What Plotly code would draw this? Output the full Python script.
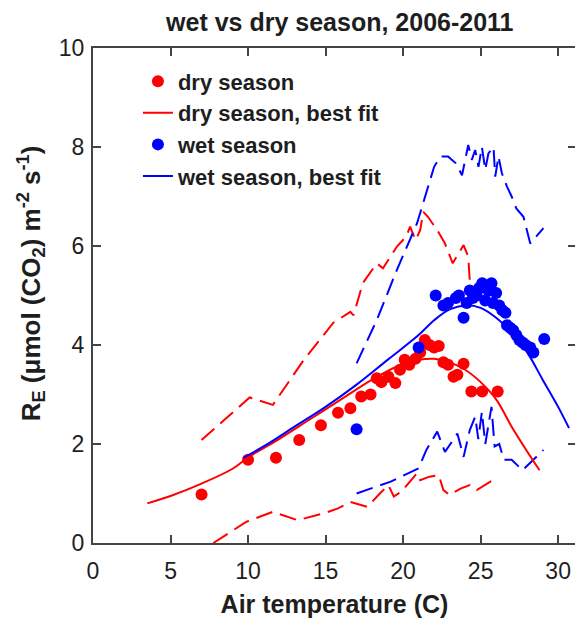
import plotly.graph_objects as go

# ---- data ----
dry_x = [7.0, 10.0, 11.8, 13.3, 14.7, 15.8, 16.6, 17.3, 17.9, 18.3, 18.6, 19.05, 19.5, 19.8,
         20.1, 20.4, 20.8, 21.1, 21.4, 21.7, 22.0, 22.3, 22.6, 22.9, 23.25, 23.5, 23.9,
         24.4, 25.1, 26.1]
dry_y = [0.98, 1.68, 1.72, 2.08, 2.38, 2.63, 2.72, 2.96, 3.0, 3.33, 3.25, 3.36, 3.23, 3.5,
         3.7, 3.6, 3.72, 3.85, 4.1, 4.0, 3.95, 3.98, 3.65, 3.6, 3.36, 3.4, 3.62,
         3.06, 3.06, 3.06]

wet_x = [17.0, 21.0, 22.1, 22.6, 22.9, 23.4, 23.6, 23.9, 24.1, 24.3, 24.5, 24.75, 24.9,
         25.1, 25.3, 25.5, 25.7, 25.8, 26.0, 26.2, 26.4, 26.6, 26.7, 26.9, 27.1, 27.3,
         27.5, 27.7, 27.9, 28.2, 28.4, 29.1]
wet_y = [2.3, 3.95, 5.0, 4.8, 4.85, 4.95, 5.0, 4.55, 4.85, 5.1, 4.95, 5.0, 5.15,
         5.25, 4.9, 5.1, 5.25, 4.85, 5.05, 4.8, 4.7, 4.65, 4.4, 4.35, 4.3, 4.2,
         4.1, 4.05, 4.0, 3.95, 3.85, 4.12]

dry_fit_x = [3.5, 5, 7, 9, 10, 12, 14, 16, 18, 20, 21, 22, 23, 24, 25, 26, 27, 28, 28.8]
dry_fit_y = [0.80, 0.95, 1.2, 1.5, 1.73, 2.1, 2.5, 2.9, 3.3, 3.62, 3.7, 3.72, 3.65, 3.5,
             3.25, 2.9, 2.35, 1.85, 1.47]

wet_fit_x = [9.7, 11, 13, 15, 17, 19, 21, 22, 23, 24, 25, 26, 27, 28, 29, 30, 30.7]
wet_fit_y = [1.72, 1.95, 2.35, 2.75, 3.2, 3.7, 4.2, 4.5, 4.72, 4.8, 4.75, 4.55, 4.25,
             3.85, 3.3, 2.75, 2.32]

dry_up_x = [7.0, 10.1, 11.6, 13.6, 15.5, 16.6, 16.8, 17.4, 18.3, 18.7, 19.6, 19.9, 20.2,
            20.45, 20.8, 21.1, 21.3, 21.6, 22.2, 22.7, 23.2, 23.9, 24.2, 24.3]
dry_up_y = [2.08, 2.94, 2.79, 3.70, 4.45, 4.67, 4.6, 5.25, 5.65, 5.55, 5.99, 6.09, 6.19,
            6.39, 6.12, 6.32, 6.69, 6.59, 6.32, 6.05, 5.65, 6.02, 5.78, 5.3]

dry_lo_x = [7.76, 9.9, 11.6, 13.2, 14.9, 15.8, 16.6, 17.7, 18.5, 19.05, 19.4, 19.9, 20.9,
            21.1, 21.7, 22.3, 22.6, 23.0, 23.7, 24.3, 24.75, 26.0]
dry_lo_y = [0.0, 0.43, 0.63, 0.46, 0.6, 0.70, 0.83, 0.73, 1.0, 1.17, 0.94, 1.04, 1.41,
            1.27, 1.34, 1.37, 1.07, 0.97, 1.10, 1.17, 1.07, 1.31]

wet_up_x = [17.0, 18.3, 19.6, 20.9, 22.0, 22.4, 22.9, 23.4, 23.8, 24.0, 24.2, 24.43, 24.65,
            24.86, 25.08, 25.3, 25.5, 25.83, 25.94, 26.15, 26.37, 26.7, 27.0, 27.3, 27.76,
            28.2, 28.6, 29.05]
wet_up_y = [3.63, 4.5, 5.52, 6.46, 7.6, 7.81, 7.81, 7.67, 7.43, 7.74, 8.04, 7.74, 7.94,
            7.6, 8.0, 7.54, 7.87, 8.0, 7.4, 7.81, 7.47, 7.2, 7.0, 6.76, 6.59,
            6.05, 6.19, 6.36]

wet_lo_x = [17.0, 19.2, 21.0, 21.5, 22.2, 22.7, 23.5, 23.9, 24.3, 24.65, 24.85, 25.08, 25.3,
            25.5, 25.7, 25.9, 26.2, 26.5, 27.0, 27.7, 28.2, 28.4, 29.05]
wet_lo_y = [1.0, 1.24, 1.51, 1.88, 2.25, 1.84, 2.21, 1.74, 2.28, 2.55, 2.1, 2.65, 2.0,
            2.42, 2.75, 1.95, 2.0, 1.68, 1.68, 1.47, 1.61, 1.68, 1.88]

x_ticks = [0, 5, 10, 15, 20, 25, 30]
y_ticks = [0, 2, 4, 6, 8, 10]

RED = "#ff0000"
BLUE = "#0000ff"
FONT = "Liberation Sans, Arial, sans-serif"
TXT = "#1e1e1e"

fig = go.Figure()

for xs, ys, c in [(dry_up_x, dry_up_y, RED), (dry_lo_x, dry_lo_y, RED),
                  (wet_up_x, wet_up_y, BLUE), (wet_lo_x, wet_lo_y, BLUE)]:
    fig.add_trace(go.Scatter(x=xs, y=ys, mode="lines", showlegend=False,
                             line=dict(color=c, width=2, dash="17px,8px"),
                             hoverinfo="skip"))

fig.add_trace(go.Scatter(x=dry_x, y=dry_y, mode="markers", name="<b>dry season</b>",
                         marker=dict(color=RED, size=12), legendrank=1))
fig.add_trace(go.Scatter(x=wet_x, y=wet_y, mode="markers", name="<b>wet season</b>",
                         marker=dict(color=BLUE, size=12), legendrank=3))
fig.add_trace(go.Scatter(x=dry_fit_x, y=dry_fit_y, mode="lines", line_shape="spline",
                         name="<b>dry season, best fit</b>",
                         line=dict(color=RED, width=2), legendrank=2))
fig.add_trace(go.Scatter(x=wet_fit_x, y=wet_fit_y, mode="lines", line_shape="spline",
                         name="<b>wet season, best fit</b>",
                         line=dict(color=BLUE, width=2), legendrank=4))

axis_common = dict(showgrid=False, zeroline=False, showline=True, linecolor="#444444",
                   linewidth=2, mirror="ticks", ticks="inside", ticklen=8, tickwidth=1.5,
                   tickcolor="#444444", automargin=False,
                   tickfont=dict(family=FONT, size=23, color=TXT))

fig.update_layout(
    width=575, height=613,
    margin=dict(l=85, r=7, t=40, b=78),
    paper_bgcolor="white", plot_bgcolor="white",
    title=dict(text="<b>wet vs dry season, 2006-2011</b>", x=0.577, xanchor="center",
               y=0.977, yanchor="middle",
               font=dict(family=FONT, size=25, color=TXT)),
    xaxis=dict(range=[0, 31.15], tickvals=x_ticks, ticklabelstandoff=6,
               title=dict(text="<b>Air temperature (C)</b>", standoff=13,
                          font=dict(family=FONT, size=25, color=TXT)),
               **axis_common),
    yaxis=dict(range=[0, 10], tickvals=y_ticks, ticklabelstandoff=2, **axis_common),
    legend=dict(x=0.093, y=0.975, xanchor="left", yanchor="top", bgcolor="rgba(0,0,0,0)",
                font=dict(family=FONT, size=22, color=TXT), tracegroupgap=0),
    showlegend=True,
)

fig.add_annotation(
    text="<b>R<sub>E</sub> (μmol (CO<sub>2</sub>) m<sup>-2</sup> s<sup>-1</sup>)</b>",
    xref="paper", yref="paper", x=-0.128, y=0.525, xanchor="center", yanchor="middle",
    textangle=-90, showarrow=False,
    font=dict(family=FONT, size=26, color=TXT),
)

fig.write_html("out.html")
